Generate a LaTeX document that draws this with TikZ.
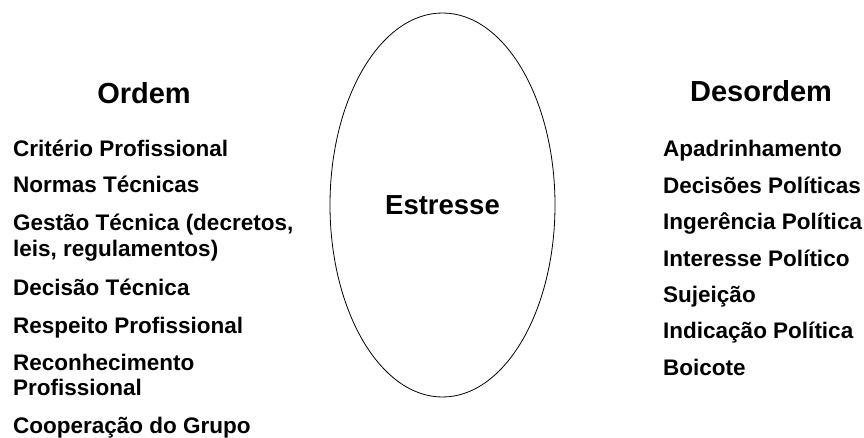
\documentclass[tikz,border=0pt]{standalone}
\usepackage{fontspec}
\setmainfont{Liberation Sans}
\usetikzlibrary{shapes.geometric}
\tikzset{
  heading/.style={font=\bfseries\fontsize{29}{33}\selectfont, anchor=base, inner sep=0pt},
  item/.style={font=\bfseries\fontsize{22.5}{25}\selectfont, anchor=base west, inner sep=0pt, align=left},
  stressbox/.style={ellipse, draw, line width=0.8pt, minimum width=225pt, minimum height=384pt, inner sep=0pt, font=\bfseries\fontsize{27.5}{31}\selectfont}
}
\begin{document}
\begin{tikzpicture}[x=1pt,y=-1pt]
\useasboundingbox (0,0) rectangle (864,438);
\node[stressbox] (s) at (442.5,205) {Estresse};
\node[heading] (ordem) at (144,104) {Ordem};
\node[heading] (desordem) at (761,102) {Desordem};
\node[item] (o1) at (13,157) {Critério Profissional};
\node[item] (o2) at (13,193) {Normas Técnicas};
\node[item] (o3) at (13,256) {Gestão Técnica (decretos,\\leis, regulamentos)};
\node[item] (o4) at (13,295) {Decisão Técnica};
\node[item] (o5) at (13,333) {Respeito Profissional};
\node[item] (o6) at (13,395) {Reconhecimento\\Profissional};
\node[item] (o7) at (13,433) {Cooperação do Grupo};
\node[item] (d1) at (663,157) {Apadrinhamento};
\node[item] (d2) at (663,193.5) {Decisões Políticas};
\node[item] (d3) at (663,230) {Ingerência Política};
\node[item] (d4) at (663,266) {Interesse Político};
\node[item] (d5) at (663,302) {Sujeição};
\node[item] (d6) at (663,338.5) {Indicação Política};
\node[item] (d7) at (663,375) {Boicote};
\end{tikzpicture}
\end{document}
